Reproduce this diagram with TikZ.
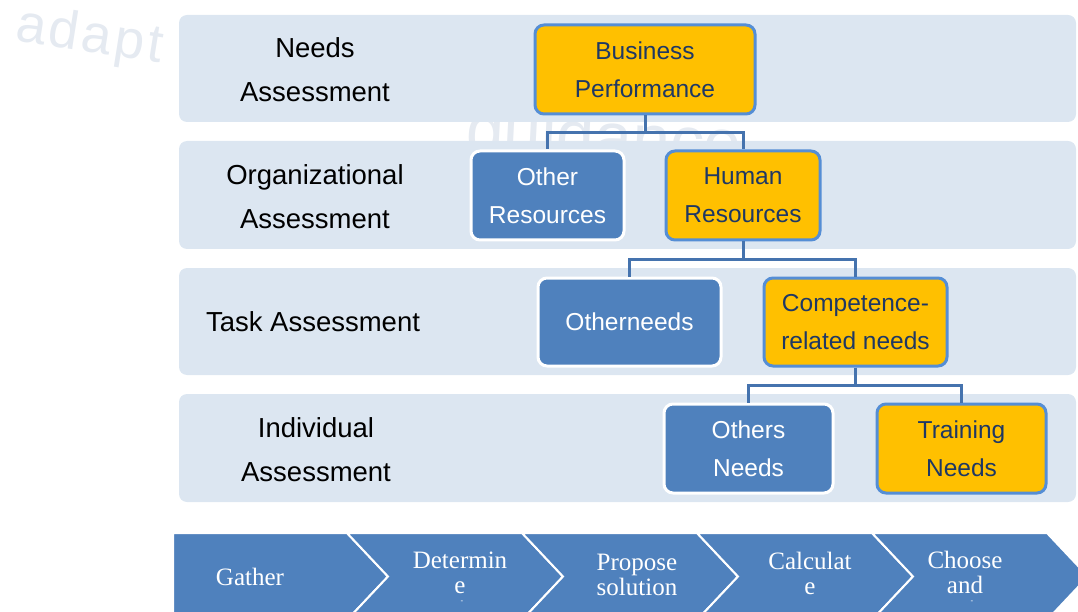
\documentclass[tikz,border=0pt]{standalone}
\usepackage{fontspec}
\setmainfont{Liberation Sans}
\newfontfamily\procfont{Liberation Serif}
\newfontfamily\wmfont[LetterSpace=6]{Liberation Sans}
\definecolor{bandc}{HTML}{DCE6F1}
\definecolor{ybox}{HTML}{FFC000}
\definecolor{bbox}{HTML}{4F81BD}
\definecolor{edgeb}{HTML}{558ED5}
\definecolor{connc}{HTML}{4573AE}
\definecolor{navy}{HTML}{1F3864}
\definecolor{wmark}{HTML}{E5EAF1}
\tikzset{
  band/.style={fill=bandc, draw=none, rounded corners=8pt},
  bandlabel/.style={align=center, font=\fontsize{27.5}{44}\selectfont, text=black},
  yellowbox/.style={fill=ybox, draw=edgeb, line width=3pt, rounded corners=9pt, align=center,
     text=navy, font=\fontsize{24.5}{38}\selectfont, inner sep=0pt},
  bluebox/.style={fill=bbox, draw=white, line width=3pt, rounded corners=9pt, align=center,
     text=white, font=\fontsize{24.5}{38}\selectfont, inner sep=0pt},
  conn/.style={draw=connc, line width=3pt},
  chev/.style={fill=bbox, draw=white, line width=2pt, line join=miter},
  proctext/.style={align=center, text=white, inner sep=0pt, font=\procfont\fontsize{25}{25}\selectfont},
  dashmark/.style={text=white, font=\fontsize{8}{8}\selectfont, inner sep=0pt},
  wm/.style={text=wmark, inner sep=0pt}
}
\begin{document}
\begin{tikzpicture}[x=1pt,y=-1pt]
\useasboundingbox (0,0) rectangle (1078,612);
% watermarks
\node[wm, rotate=-9, anchor=base west, font=\wmfont\fontsize{54}{56}\selectfont] (wm1) at (14,40) {adapt};
\node[wm, rotate=-3, font=\fontsize{68}{70}\selectfont, anchor=base] (wm2) at (603,160) {guidance};
% bands
\fill[band] (179,15) rectangle (1076,122);
\fill[band] (179,141) rectangle (1076,249);
\fill[band] (179,268) rectangle (1076,375);
\fill[band] (179,394) rectangle (1076,502);
% band labels
\node[bandlabel] (l1) at (315,70) {Needs\\Assessment};
\node[bandlabel] (l2) at (315,197) {Organizational\\Assessment};
\node[bandlabel] (l3) at (313,322) {Task Assessment};
\node[bandlabel] (l4) at (316,450) {Individual\\Assessment};
% boxes
\node[yellowbox, minimum width=220pt, minimum height=89pt] (bp) at (645,69.5) {Business\\Performance};
\node[bluebox, minimum width=153pt, minimum height=89pt] (or) at (547.5,195.5) {Other\\Resources};
\node[yellowbox, minimum width=154pt, minimum height=89pt] (hr) at (743,195.5) {Human\\Resources};
\node[bluebox, minimum width=183pt, minimum height=88pt] (on) at (629.5,322) {Otherneeds};
\node[yellowbox, minimum width=183pt, minimum height=88pt] (cr) at (855.5,322) {Competence-\\related needs};
\node[bluebox, minimum width=169pt, minimum height=89pt] (onn) at (748.5,448.5) {Others\\Needs};
\node[yellowbox, minimum width=169pt, minimum height=89pt] (tn) at (961.5,448.5) {Training\\Needs};
% connectors
\draw[conn] (bp.south) -- ++(0,17.5) -| (or.north);
\draw[conn] (bp.south) -- ++(0,17.5) -| (hr.north);
\draw[conn] (hr.south) -- ++(0,18) -| (on.north);
\draw[conn] (hr.south) -- ++(0,18) -| (cr.north);
\draw[conn] (cr.south) -- ++(0,18) -| (onn.north);
\draw[conn] (cr.south) -- ++(0,18) -| (tn.north);
% process chevrons
\draw[chev] (173,533) -- (347,533) -- (388,576.5) -- (347,620) -- (173,620) -- cycle;
\foreach \i in {0,1,2,3}{
  \draw[chev] ({347+175*\i},533) -- ({522+175*\i},533) -- ({563+175*\i},576.5)
     -- ({522+175*\i},620) -- ({347+175*\i},620) -- ({388+175*\i},576.5) -- cycle;
}
\node[proctext] (p1) at (250,577) {Gather};
\node[proctext] (p2) at (460,573) {Determin\\e};
\node[proctext] (p3) at (637,575) {Propose\\solution};
\node[proctext] (p4) at (810,573) {Calculat\\e};
\node[proctext] (p5) at (965,572.5) {Choose\\and};
\node[dashmark] (d2) at (462,602) {-};
\node[dashmark] (d5) at (972,602) {-};
\end{tikzpicture}
\end{document}
